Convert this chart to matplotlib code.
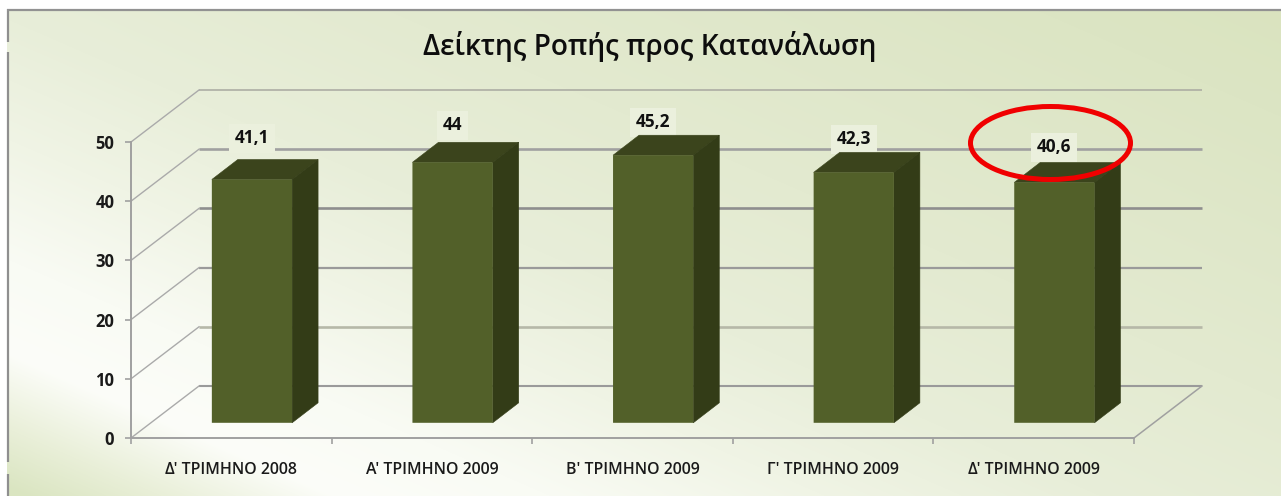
import numpy as np
import matplotlib
matplotlib.use("Agg")
import matplotlib.pyplot as plt
from matplotlib.patches import Polygon, Ellipse, Rectangle

categories = ["Δ' ΤΡΙΜΗΝΟ 2008", "Α' ΤΡΙΜΗΝΟ 2009", "Β' ΤΡΙΜΗΝΟ 2009", "Γ' ΤΡΙΜΗΝΟ 2009", "Δ' ΤΡΙΜΗΝΟ 2009"]
values = [41.1, 44, 45.2, 42.3, 40.6]
value_labels = ["41,1", "44", "45,2", "42,3", "40,6"]
y_ticks = [0, 10, 20, 30, 40, 50]
title = "Δείκτης Ροπής προς Κατανάλωση"

W, H = 1281, 496
plt.rcParams['font.family'] = ['Open Sans', 'Noto Sans', 'DejaVu Sans']
fig = plt.figure(figsize=(W / 100, H / 100), dpi=100, facecolor='white')

# background gradient (colour stops along a slanted direction)
bg = fig.add_axes([0, 0, 1, 1], zorder=0)
bg.axis('off')
yy, xx = np.mgrid[0:H, 0:W]
dist = 0.4 * (xx - 20) - 0.917 * (yy - 330)
stop_d = [-150, -95, -25, 60, 170, 280, 440, 700, 900]
stop_c = np.array([(218, 229, 193), (233, 239, 216), (252, 253, 249), (249, 251, 244), (240, 244, 229),
                   (232, 238, 217), (227, 234, 208), (220, 229, 196), (216, 226, 186)], dtype=float)
img = np.dstack([np.interp(dist, stop_d, stop_c[:, i]) for i in range(3)]) / 255
bg.imshow(img, extent=(0, W, H, 0), aspect='auto', interpolation='bilinear', zorder=0)
bg.set_xlim(0, W); bg.set_ylim(H, 0)
bg.add_patch(Rectangle((0, 0), W, 9, fc='white', ec='none', zorder=1))
bg.add_patch(Rectangle((0, 0), 7, H, fc='white', ec='none', zorder=1))
for y0, y1 in [(9, 42), (52, 462), (474, 496)]:
    bg.plot([8, 8], [y0, y1], color='#8f8f8f', lw=1.6, zorder=2, solid_capstyle='butt')
bg.plot([7, W], [9.5, 9.5], color='#929292', lw=1.6, zorder=2, solid_capstyle='butt')

# main axes = front plane of the 3D box
L, R, T, B = 131, 1134, 142, 438
ax = fig.add_axes([L / W, 1 - B / H, (R - L) / W, (B - T) / H], zorder=2)
ax.patch.set_alpha(0)
n = len(categories)
ax.set_xlim(0, n); ax.set_ylim(0, 50)
for s in ('top', 'right'):
    ax.spines[s].set_visible(False)
axis_col = '#a0a0a0'
for s in ('left', 'bottom'):
    ax.spines[s].set_color(axis_col); ax.spines[s].set_linewidth(1.4)
ax.set_xticks(range(n + 1))
ax.set_xticklabels([])
ax.set_xticks(np.arange(n) + 0.5, minor=True)
ax.set_xticklabels(categories, minor=True, fontsize=11.4, fontweight='semibold', color='#1a1a1a')
ax.tick_params(axis='x', which='major', length=4, color=axis_col, width=1.2)
ax.tick_params(axis='x', which='minor', length=0, pad=17)
ax.set_yticks(y_ticks)
ax.set_yticklabels([str(v) for v in y_ticks], fontsize=12, fontweight='bold', color='#1a1a1a')
ax.tick_params(axis='y', length=4, color=axis_col, width=1.2, pad=8)

# depth offsets, in data units
depth_x, depth_y = 68 / 200.6, 52 / 5.92
bar_dx, bar_dy = 26 / 200.6, 20 / 5.92
floor = 15.2 / 5.92
shift = 0.103
bar_w = 0.40

# walls and gridlines
grid_style = {0: (1.5, '#9a9a9a'), 10: (1.9, '#b6b8a8'), 20: (1.6, '#9a9a9a'),
              30: (1.9, '#8e8e8e'), 40: (1.9, '#a0a0a0'), 50: (1.1, '#a8a8a0')}
for v in y_ticks:
    lw, col = grid_style[v]
    ax.plot([depth_x, n + depth_x], [v + depth_y, v + depth_y], color=col, lw=lw,
            clip_on=False, zorder=1, solid_capstyle='butt')
    ax.plot([0, depth_x], [v, v + depth_y], color='#aaaaaa', lw=1.0, clip_on=False, zorder=1)
ax.plot([n, n + depth_x], [0, depth_y], color='#a0a0a0', lw=1.1, clip_on=False, zorder=1)

# bars
x = np.arange(n) + 0.5 + shift
bars = ax.bar(x, values, width=bar_w, bottom=floor, color='#526029', edgecolor='none',
              zorder=3.2, clip_on=False)
for b in bars:
    b.set_snap(False)
label_nudge = [6, 2, -2, -2, 0]
for xi, v, lab, nudge in zip(x, values, value_labels, label_nudge):
    top = v + floor
    x0, x1 = xi - bar_w / 2, xi + bar_w / 2
    ax.add_patch(Polygon([(x0, top), (x1, top), (x1 + bar_dx, top + bar_dy), (x0 + bar_dx, top + bar_dy)],
                         closed=True, fc='#3b441c', ec='#3b441c', lw=0.4, zorder=3, clip_on=False))
    ax.add_patch(Polygon([(x1, floor), (x1 + bar_dx, floor + bar_dy), (x1 + bar_dx, top + bar_dy), (x1, top)],
                         closed=True, fc='#333c17', ec='#333c17', lw=0.4, zorder=3, clip_on=False))
    ax.annotate(lab, (xi, top), xytext=(0, (35 + nudge) * 0.72), textcoords='offset points', ha='center', va='center',
                fontsize=12.4, fontweight='bold', color='#111111', zorder=2.5, annotation_clip=False,
                bbox=dict(boxstyle='square,pad=0.33', fc='#ebf0dd', ec='none'))

# overlay: title and highlight ring
top_ax = fig.add_axes([0, 0, 1, 1], zorder=3)
top_ax.set_xlim(0, W); top_ax.set_ylim(H, 0); top_ax.axis('off')
top_ax.text(649.5, 46, title, ha='center', va='center', fontsize=20.2, fontweight='semibold', color='#0d0d0d')
top_ax.add_patch(Ellipse((1050.5, 143), 160, 73, fc='none', ec='#f00000', lw=3.6))

fig.savefig('out.png', dpi=100)
